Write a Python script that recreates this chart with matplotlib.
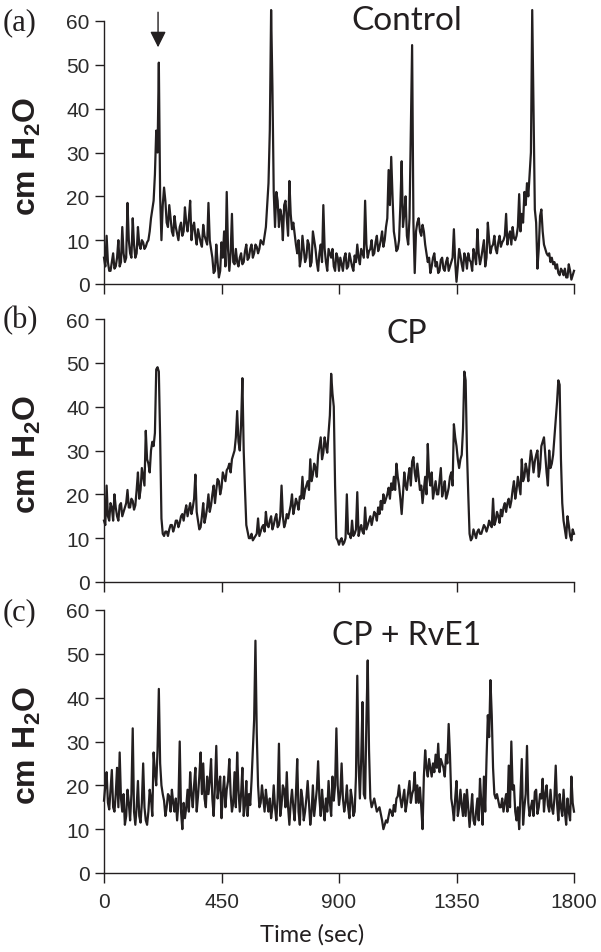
import matplotlib
matplotlib.use("Agg")
import matplotlib.pyplot as plt
from matplotlib import font_manager as fm
import numpy as np

# pressure traces: *_main at t = 0, 10, ..., 1800 s,
# *_mid at t = 5, 15, ..., 1795 s (readings between the main samples)
control_main = [
    6, 11, 3, 5, 3.5, 6, 4, 13, 5, 18.5, 7, 15, 6, 13, 8, 9.5, 8.5, 10, 15, 19,
    35, 50.5, 10, 22, 14, 18, 12, 15.5, 11.5, 13, 11, 17.5, 12, 19, 13, 11, 12.5, 9.5, 13.5, 10,
    18.5, 8, 2.5, 9, 1.5, 9.5, 12, 21, 3, 16, 4.5, 5, 6, 4.5, 7.5, 5.5, 8, 6, 9, 7,
    10, 9, 13, 23, 62.5, 21, 21, 13, 15.5, 18, 15, 23.5, 12.5, 11.5, 7, 4, 11, 5, 10, 4,
    12, 8, 3, 9, 18, 5, 8, 6, 4, 7, 3, 4.5, 6, 3.5, 7, 4, 6.5, 9, 4.5, 7,
    19, 6, 8, 6.5, 9.5, 7.5, 10, 8.5, 13, 26, 29, 12, 7.5, 10, 28, 16, 11, 15, 54.5, 2.5,
    14, 12, 13.5, 9, 5, 2.5, 6, 4, 2.5, 5.5, 3.5, 5, 3, 5, 12.5, 0.5, 8, 4.5, 7, 3.5,
    5.5, 3, 6.5, 12.5, 4.5, 8, 4, 14, 7, 9, 8, 9.5, 8.5, 10, 16, 11, 9, 10.5, 11, 20.5,
    16, 21, 23, 25, 62.5, 17, 3.5, 15.5, 12, 8, 6.5, 5, 4.5, 3.5, 2.5, 3.5, 2, 1.5, 4.5, 1,
    3,
]
control_mid = [
    4, 5, 3, 7, 4, 10, 5, 7, 6, 10,
    6, 9, 7, 9, 10, 8, 9.5, 12, 17, 25,
    30, 20, 18, 19, 13, 15, 11, 13, 10, 14,
    12, 14, 15, 10, 14, 9, 11, 8.5, 11, 9,
    10, 6, 3, 5, 3, 6, 4, 8, 7, 5,
    8, 4, 7, 5, 9, 6, 9, 7, 8.5, 8,
    9.5, 11, 18, 35, 45, 13, 19, 17, 10, 19,
    11, 16, 14, 9, 10, 6, 8, 6, 9, 5,
    10, 5, 7, 5, 8, 3, 7, 8, 3, 6,
    6, 3, 7, 4, 5.5, 3, 5, 6, 8, 6,
    9, 7.5, 10, 7, 11, 8.5, 12, 10, 15, 18,
    20, 10, 8, 18, 13, 20, 9, 35, 14, 12,
    15, 11, 12, 7, 6, 4, 7, 5, 3, 6,
    3, 6, 4, 6, 5, 4, 6.5, 3, 6, 7,
    5, 8, 4.5, 7, 6, 10, 6, 10, 8.5, 11,
    7, 11, 9.5, 11, 9, 12, 13, 10, 13, 12,
    14, 18, 20, 30, 40, 14, 8, 17, 9, 7,
    7, 6, 5, 4.5, 2, 3, 3.5, 1.5, 3, 2,
]
cp_main = [
    14, 22, 14, 17, 20, 15, 17.5, 15, 17, 21, 17, 18.5, 17.5, 25, 21, 24, 34.5, 27, 30, 31,
    48.5, 48, 14.5, 10.5, 11.5, 12, 13, 12.5, 14, 13.5, 15.5, 16, 15, 18, 17, 24.5, 14, 12.5, 18, 15,
    20, 17.5, 22, 21, 23, 21.5, 24, 25.5, 27, 28, 30, 39, 30, 46.5, 21, 11.5, 10, 9.5, 10.5, 14.5,
    11.5, 13, 16, 12.5, 15, 13, 15.5, 13, 22, 12.5, 15.5, 16, 20, 17, 18, 19.5, 24, 21, 23, 28,
    24.5, 26, 29, 33, 29.5, 31, 34, 47.5, 40, 10, 8.5, 10, 9, 20, 11, 14, 11, 20.5, 12, 11.5,
    17, 13, 15, 14.5, 15.5, 17, 18.5, 20, 19, 21.5, 22.5, 24, 27, 22, 15.5, 25, 21, 26, 27.5, 25,
    27, 21, 18, 24, 31.5, 22, 19, 23, 20, 26, 21, 19, 21.5, 25, 36, 31, 26, 29, 48, 30,
    11, 10, 11, 11.5, 11, 12, 12.5, 12.5, 13, 19, 14, 15, 16.5, 17, 16, 19, 18.5, 23, 21, 22,
    28, 24, 25.5, 27, 28, 27.5, 30, 26, 32, 29, 22, 26, 29, 37, 46, 28, 14, 10, 13, 9.5,
    11,
]
cp_mid = [
    13, 15, 18, 14, 17, 14, 18, 16, 18, 17,
    19, 16.5, 21, 19, 26, 22, 28, 25, 32, 34,
    49, 33, 11, 11.5, 10.5, 13, 11.5, 14, 12.5, 15,
    14, 17.5, 16.5, 15.5, 19, 16, 12, 15, 13.5, 17,
    16, 20, 18, 23.5, 20, 25, 23, 26, 25, 29,
    33, 32, 36, 30, 13, 10, 11, 10, 11, 10.5,
    12.5, 11.5, 13, 14, 12, 14.5, 12.5, 15, 15, 13.5,
    14.5, 17.5, 15.5, 19, 16.5, 19, 19, 22, 21, 23,
    27, 24, 31, 28, 33, 29.5, 38, 43, 22, 9.5,
    9.5, 8.5, 10, 11, 10, 10.5, 12, 10.5, 13, 11,
    12, 14, 13, 16, 14, 15.5, 16.5, 18, 20, 19,
    21, 21, 24, 19, 20, 22, 24, 22, 28.5, 23,
    24, 22, 21, 20, 24, 25, 21, 20, 23, 19.5,
    23, 20, 24, 22, 33, 28, 28, 35, 46, 20,
    9.5, 12, 10, 12, 11, 13, 11.5, 14, 12.5, 13,
    16, 13.5, 15, 18, 18, 17, 21, 19, 24, 20,
    23, 27, 23, 30, 25, 29, 24, 31, 33, 25,
    30, 27, 33, 41, 45, 18, 12, 15, 10.5, 12,
]
rve1_main = [
    16.5, 23, 14.5, 23.5, 14, 24, 27.5, 14, 11, 19, 12, 33, 11, 21, 11.5, 25, 12, 14, 17, 27.5,
    20, 42, 20, 16.5, 15, 17.5, 19, 14, 12, 30, 10, 12.5, 19, 23, 15, 24, 17.5, 27.5, 25, 15,
    18, 26, 13, 29, 20, 12.5, 22, 19, 26, 14, 23, 27.5, 14, 24, 15.5, 13, 15.5, 28, 53, 20,
    16, 17, 19, 14, 12.5, 20, 12, 29.5, 15.5, 19, 23, 11, 19, 12, 26, 11, 17, 14, 21, 11,
    20, 16, 25.5, 13, 15, 17, 21, 13, 16.5, 33, 15.5, 25, 14, 20, 12.5, 17, 14, 45, 17, 39,
    17, 48.5, 17, 16, 15.5, 14.5, 13.5, 10, 12, 13, 14, 15.5, 17, 20, 15, 19, 16, 21, 18, 23,
    20, 19.5, 10, 28, 22, 24, 25, 27, 29.5, 26, 24, 27, 34, 17, 12, 21, 15, 15.5, 18, 19,
    10.5, 18, 11, 17, 21.5, 11, 14, 36, 44, 24, 17, 16.5, 15, 14, 18, 24.5, 30, 20, 12, 10,
    26, 15, 29, 13, 16.5, 18.5, 13.5, 18, 21.5, 18, 15.5, 19, 13.5, 24.5, 12, 15, 19, 11, 14, 22,
    14,
]
rve1_mid = [
    20, 16, 19, 15, 18, 15, 17, 18, 13, 16,
    18, 14, 15, 13, 16, 15, 11, 19, 13, 23,
    28, 25, 18, 13, 18, 14, 16, 17, 16, 14,
    16, 15, 14, 18, 20, 14, 22, 18, 17, 22,
    21, 17, 20, 17, 22, 18, 15, 21, 18, 16,
    15, 19, 18, 13, 21, 18, 21, 35, 32, 15,
    20, 14, 16, 17, 15, 15, 17, 13, 20, 15,
    15, 16, 15, 18, 14, 19, 12, 17, 16, 14,
    13, 19, 17, 19, 12, 14, 16, 22, 20, 20,
    18, 17, 16, 15, 19, 13, 22, 25, 26, 18,
    35, 28, 15, 17, 14, 15, 12, 11, 11.5, 14.5,
    13, 14, 17.5, 17, 17, 14, 18.5, 16, 19, 16,
    16, 15, 22, 24, 26, 22, 23, 24, 23, 25,
    22, 25, 27, 15, 17, 13, 19, 13, 13, 15,
    14, 12, 14, 12, 16, 22, 26, 31, 36, 18,
    18, 15, 17, 16, 14, 15, 19, 14, 15, 18,
    11, 18, 16, 15, 13, 19, 15, 17, 14, 20,
    14, 15, 17, 16, 18, 13, 14, 17, 12, 16,
]
series = [(control_main, control_mid), (cp_main, cp_mid), (rve1_main, rve1_mid)]
titles = ["Control", "CP", "CP + RvE1"]
panel_tags = ["(a)", "(b)", "(c)"]
xticks = [0, 450, 900, 1350, 1800]
yticks = [0, 10, 20, 30, 40, 50, 60]

ink = "#231f20"
W, H = 601, 953

names = {f.name for f in fm.fontManager.ttflist}
narrow = "Liberation Sans Narrow" in names
plt.rcParams["mathtext.fontset"] = "custom"
plt.rcParams["mathtext.rm"] = ("Liberation Sans Narrow:bold" if narrow
                               else "Liberation Sans:bold")

fig = plt.figure(figsize=(W / 100, H / 100), dpi=100)

# pixel boxes of the three panels: (top, bottom) of the 0..60 axis
boxes = [(22, 285), (320, 583), (611, 874)]
x0, x1 = 104, 574
title_base = [30, 343, 645]
title_size = [24, 23, 23]
tag_base = [30, 328, 620]

for i, (top, bot) in enumerate(boxes):
    ax = fig.add_axes([x0 / W, 1 - bot / H, (x1 - x0) / W, (bot - top) / H])
    main, mid = series[i]
    y = np.empty(len(main) + len(mid))
    y[0::2] = main
    y[1::2] = mid
    t = np.arange(len(y)) * 5
    ax.plot(t, y, color=ink, lw=1.6, clip_on=False)
    ax.set_xlim(0, 1800)
    ax.set_ylim(0, 60)
    for s in ["top", "right"]:
        ax.spines[s].set_visible(False)
    for s in ["left", "bottom"]:
        ax.spines[s].set_color(ink)
        ax.spines[s].set_linewidth(1.0)
    ax.set_yticks(yticks)
    ax.set_xticks(xticks)
    ax.tick_params(axis="y", direction="out", length=6.5, width=1.0, color=ink,
                   pad=4, labelsize=15, labelcolor="#2b2b2b")
    ax.tick_params(axis="x", direction="out", length=7, width=1.0, color=ink,
                   pad=7, labelsize=15, labelcolor="#2b2b2b")
    for lab in ax.get_xticklabels() + ax.get_yticklabels():
        lab.set_fontfamily("Liberation Sans")
    if i < 2:
        ax.set_xticklabels([])

    fig.text(407 / W, 1 - title_base[i] / H, titles[i], ha="center", va="baseline",
             fontsize=title_size[i], family="Lato", color=ink)
    fig.text(3 / W, 1 - tag_base[i] / H, panel_tags[i], ha="left", va="baseline",
             fontsize=22, family="Liberation Serif", color=ink)
    fig.text(27 / W, 1 - ((top + bot) / 2 + 3) / H, r"$\mathrm{cm\ H_2O}$",
             rotation=90, ha="center", va="center",
             fontsize=28 if narrow else 23, color=ink)

    if i == 0:
        ax.annotate("", xy=(207, 54), xytext=(207, 62), annotation_clip=False,
                    arrowprops=dict(arrowstyle="-|>,head_length=0.8,head_width=0.4",
                                    color=ink, lw=1.0, mutation_scale=12,
                                    shrinkA=0, shrinkB=0))

fig.text(312 / W, 1 - 935 / H, "Time (sec)", ha="center", va="center",
         fontsize=17, family="Lato", color=ink)

fig.savefig("out.png", dpi=100)
